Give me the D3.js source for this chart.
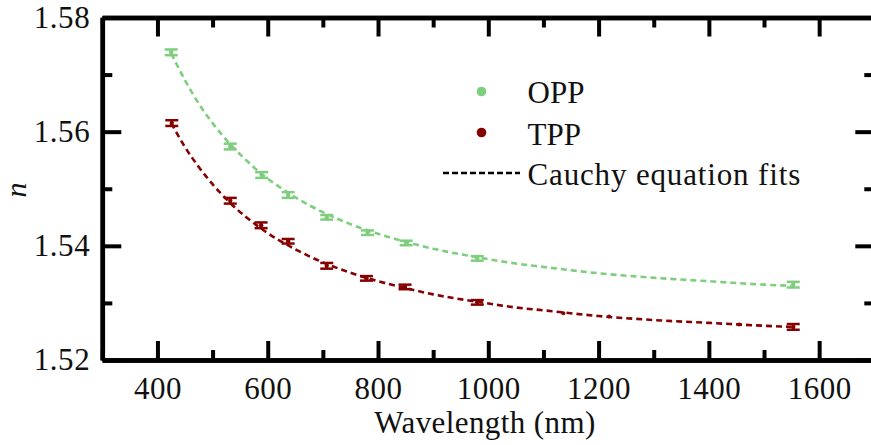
<!DOCTYPE html>
<html><head><meta charset="utf-8">
<script src="https://cdnjs.cloudflare.com/ajax/libs/d3/7.8.5/d3.min.js"></script>
<style>html,body{margin:0;padding:0;background:#fff;}svg{display:block;font-family:"Liberation Serif","Times New Roman",serif;}</style>
</head><body><svg id="c" width="871" height="445"></svg>
<script>
// ---- data ----
const oppWavelength = [425, 532, 589, 637, 707, 781, 851, 980, 1553];
const oppN          = [1.5739, 1.5574, 1.5524, 1.5489, 1.5450, 1.5423, 1.5405, 1.5378, 1.5332];
const oppErr        = [0.0005, 0.0005, 0.0005, 0.0005, 0.0004, 0.0004, 0.0004, 0.0004, 0.0005];
const tppWavelength = [426, 532, 588, 637, 707, 779, 849, 980, 1553];
const tppN          = [1.5615, 1.5479, 1.5436, 1.5408, 1.5365, 1.5343, 1.5328, 1.5301, 1.5258];
const tppErr        = [0.0005, 0.0005, 0.0005, 0.0004, 0.0005, 0.0004, 0.0004, 0.0004, 0.0005];
const tppExtraWavelength = [1136, 1219, 1455];
const tppExtraN          = [1.5282, 1.5276, 1.5262];
const fitWavelength = [425, 450, 475, 500, 532, 560, 590, 620, 650, 700, 750, 800, 850, 900, 980, 1050, 1100, 1200, 1300, 1400, 1500, 1550];
const oppFit = [1.5737, 1.5690, 1.5649, 1.5615, 1.5578, 1.5551, 1.5525, 1.5504, 1.5485, 1.5459, 1.5438, 1.5421, 1.5407, 1.5395, 1.5380, 1.5369, 1.5363, 1.5352, 1.5344, 1.5338, 1.5332, 1.5330];
const tppFit = [1.5615, 1.5573, 1.5538, 1.5508, 1.5475, 1.5451, 1.5429, 1.5410, 1.5394, 1.5371, 1.5353, 1.5338, 1.5326, 1.5315, 1.5302, 1.5292, 1.5287, 1.5277, 1.5270, 1.5265, 1.5260, 1.5258];
const xMajorTicks = [400, 600, 800, 1000, 1200, 1400, 1600];
const xMinorTicks = [300, 500, 700, 900, 1100, 1300, 1500, 1700];
const yMajorTicks = [1.52, 1.54, 1.56, 1.58];
const yMinorTicks = [1.53, 1.55, 1.57];
const seriesNames = ["OPP", "TPP"];
const fitName = "Cauchy equation fits";
const xTitle = "Wavelength (nm)";
const yTitle = "n";

const colors = {OPP: "#7dcf7d", TPP: "#850000"};

const svg = d3.select("#c");
const L = 102.3, R = 874.3, T = 17.5, B = 360;
const x = d3.scaleLinear().domain([300, 1700]).range([L, R]);
const y = d3.scaleLinear().domain([1.52, 1.58]).range([B, T]);

// axes
function styleAxis(g) {
  g.select(".domain").attr("stroke", "#000").attr("stroke-width", 4.5);
  g.selectAll(".tick line").attr("stroke", "#000").attr("stroke-width", 4);
  g.selectAll(".tick text").attr("font-size", 31).attr("fill", "#111")
    .attr("font-family", "Liberation Serif, serif");
}
const fmtY = d3.format(".2f");
// bottom
svg.append("g").attr("transform", `translate(0,${B})`)
  .call(d3.axisBottom(x).tickValues(xMinorTicks).tickSize(-10).tickSizeOuter(0).tickFormat(""))
  .call(styleAxis);
svg.append("g").attr("transform", `translate(0,${B})`)
  .call(d3.axisBottom(x).tickValues(xMajorTicks).tickSize(-19).tickSizeOuter(0).tickFormat(d3.format("d")))
  .call(styleAxis)
  .call(g => g.selectAll(".tick text").attr("dy", "0.71em").attr("y", 17).attr("letter-spacing", 0.5));
// top
svg.append("g").attr("transform", `translate(0,${T})`)
  .call(d3.axisTop(x).tickValues(xMinorTicks).tickSize(-10).tickSizeOuter(0).tickFormat(""))
  .call(styleAxis);
svg.append("g").attr("transform", `translate(0,${T})`)
  .call(d3.axisTop(x).tickValues(xMajorTicks).tickSize(-19).tickSizeOuter(0).tickFormat(""))
  .call(styleAxis);
// left
svg.append("g").attr("transform", `translate(${L},0)`)
  .call(d3.axisLeft(y).tickValues(yMinorTicks).tickSize(-10).tickSizeOuter(0).tickFormat(""))
  .call(styleAxis);
svg.append("g").attr("transform", `translate(${L},0)`)
  .call(d3.axisLeft(y).tickValues(yMajorTicks).tickSize(-19).tickSizeOuter(0).tickFormat(fmtY))
  .call(styleAxis)
  .call(g => g.selectAll(".tick text").attr("x", -12).attr("letter-spacing", 0.6));
// right
svg.append("g").attr("transform", `translate(${R},0)`)
  .call(d3.axisRight(y).tickValues(yMinorTicks).tickSize(-10).tickSizeOuter(0).tickFormat(""))
  .call(styleAxis);
svg.append("g").attr("transform", `translate(${R},0)`)
  .call(d3.axisRight(y).tickValues(yMajorTicks).tickSize(-19).tickSizeOuter(0).tickFormat(""))
  .call(styleAxis);

// titles
svg.append("text").attr("x", 485).attr("y", 433).attr("text-anchor", "middle")
  .attr("font-size", 31).attr("letter-spacing", 0.4).attr("fill", "#111").text(xTitle);
svg.append("text").attr("transform", "translate(26,190) rotate(-90)").attr("text-anchor", "middle")
  .attr("font-size", 30).attr("font-style", "italic").attr("fill", "#111").text(yTitle);

// fit lines
const line = d3.line().x(d => x(d[0])).y(d => y(d[1])).curve(d3.curveMonotoneX);
[[oppFit, colors.OPP], [tppFit, colors.TPP]].forEach(([vals, c]) => {
  svg.append("path").datum(fitWavelength.map((w, i) => [w, vals[i]]))
    .attr("d", line).attr("fill", "none").attr("stroke", c)
    .attr("stroke-width", 2.6).attr("stroke-dasharray", "6,4");
});

// points with error bars
function drawSeries(ws, ns, es, c) {
  const g = svg.append("g");
  ws.forEach((w, i) => {
    const cx = x(w), y1 = y(ns[i] + es[i]), y2 = y(ns[i] - es[i]);
    g.append("line").attr("x1", cx).attr("x2", cx).attr("y1", y1).attr("y2", y2).attr("stroke", c).attr("stroke-width", 2.5);
    g.append("line").attr("x1", cx - 6.5).attr("x2", cx + 6.5).attr("y1", y1).attr("y2", y1).attr("stroke", c).attr("stroke-width", 2.5);
    g.append("line").attr("x1", cx - 6.5).attr("x2", cx + 6.5).attr("y1", y2).attr("y2", y2).attr("stroke", c).attr("stroke-width", 2.5);
    g.append("circle").attr("cx", cx).attr("cy", y(ns[i])).attr("r", 2.2).attr("fill", c);
  });
}
drawSeries(oppWavelength, oppN, oppErr, colors.OPP);
drawSeries(tppWavelength, tppN, tppErr, colors.TPP);
tppExtraWavelength.forEach((w, i) => {
  svg.append("circle").attr("cx", x(w)).attr("cy", y(tppExtraN[i])).attr("r", 2).attr("fill", colors.TPP);
});

// legend
const leg = svg.append("g");
leg.append("circle").attr("cx", 481.5).attr("cy", 91.5).attr("r", 4.8).attr("fill", colors.OPP);
leg.append("text").attr("x", 527.5).attr("y", 103).attr("font-size", 31).attr("fill", "#111").text(seriesNames[0]);
leg.append("circle").attr("cx", 481.5).attr("cy", 132.5).attr("r", 4.8).attr("fill", colors.TPP);
leg.append("text").attr("x", 527.5).attr("y", 145).attr("font-size", 31).attr("fill", "#111").text(seriesNames[1]);
leg.append("line").attr("x1", 443).attr("x2", 520).attr("y1", 173).attr("y2", 173)
  .attr("stroke", "#000").attr("stroke-width", 2.6).attr("stroke-dasharray", "6,3");
leg.append("text").attr("x", 527.5).attr("y", 185).attr("font-size", 31).attr("letter-spacing", 0.85).attr("fill", "#111").text(fitName);
</script></body></html>
